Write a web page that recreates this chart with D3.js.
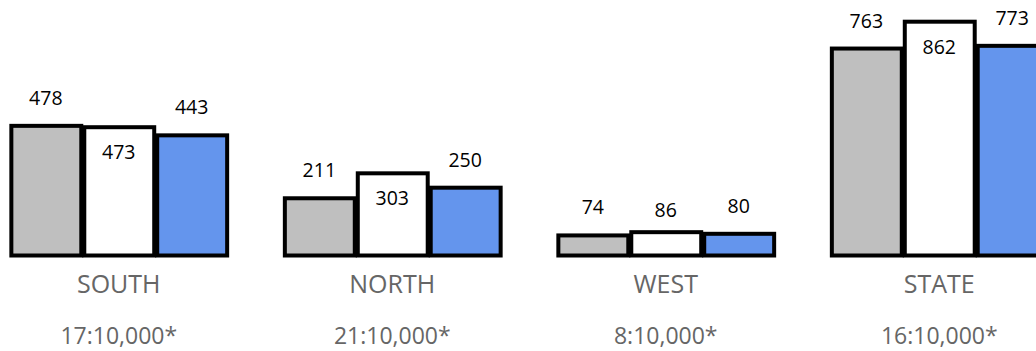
<!DOCTYPE html>
<html>
<head>
<meta charset="utf-8">
<script src="https://cdn.jsdelivr.net/npm/d3@7"></script>
<style>
  body { margin: 0; background: #fff; }
  text { font-family: "Open Sans", "Noto Sans", sans-serif; }
</style>
</head>
<body>
<svg width="1036" height="351"></svg>
<script>
// data
const regions = ["SOUTH", "NORTH", "WEST", "STATE"];
const ratios = ["17:10,000*", "21:10,000*", "8:10,000*", "16:10,000*"];
const series = ["a", "b", "c"];
const seriesA = [478, 211, 74, 763];
const seriesB = [473, 303, 86, 862];
const seriesC = [443, 250, 80, 773];
const colors = ["#bfbfbf", "#ffffff", "#6495ed"];

let svg = d3.select("svg");
let width = +svg.attr("width");
let height = +svg.attr("height");

const baseline = 255.5;

// groups run past the right edge, like the original
let x = d3.scaleBand()
    .domain(regions)
    .range([-18, 1076])
    .paddingInner(0.2)
    .paddingOuter(0.1);

let xs = d3.scaleBand()
    .domain(series)
    .range([0, x.bandwidth()]);

let y = d3.scaleLinear()
    .domain([0, 942])
    .range([baseline, 0]);

let rows = regions.map((r, i) => ({
    region: r,
    ratio: ratios[i],
    values: [seriesA[i], seriesB[i], seriesC[i]]
}));

let groups = svg.selectAll(".group")
    .data(rows)
    .enter()
    .append("g")
    .attr("class", "group")
    .attr("transform", d => `translate(${x(d.region)},0)`);

groups.selectAll("rect")
    .data(d => d.values.map((v, j) => ({ key: series[j], value: v, j: j })))
    .enter()
    .append("rect")
    .attr("x", d => xs(d.key) + 2)
    .attr("width", xs.bandwidth() - 3)
    .attr("y", d => y(d.value))
    .attr("height", d => baseline - y(d.value))
    .attr("fill", d => colors[d.j])
    .attr("stroke", "#000")
    .attr("stroke-width", 4);

groups.selectAll(".val")
    .data(d => d.values.map((v, j) => ({ key: series[j], value: v, j: j })))
    .enter()
    .append("text")
    .attr("class", "val")
    .attr("x", d => xs(d.key) + xs.bandwidth() / 2)
    .attr("y", d => {
        let top = y(d.value);
        if (d.j == 1) {
            // middle bar: label inside when there is room
            return (baseline - top > 45) ? top + 32 : top - 15;
        }
        return top - 21;
    })
    .attr("text-anchor", "middle")
    .attr("font-size", "19.5px")
    .attr("fill", "#000")
    .text(d => d.value);

groups.append("text")
    .attr("x", x.bandwidth() / 2)
    .attr("y", 293)
    .attr("text-anchor", "middle")
    .attr("font-size", "25px")
    .attr("fill", "#666")
    .text(d => d.region);

groups.append("text")
    .attr("x", x.bandwidth() / 2)
    .attr("y", 344)
    .attr("text-anchor", "middle")
    .attr("font-size", "23px")
    .attr("fill", "#666")
    .text(d => d.ratio);
</script>
</body>
</html>
